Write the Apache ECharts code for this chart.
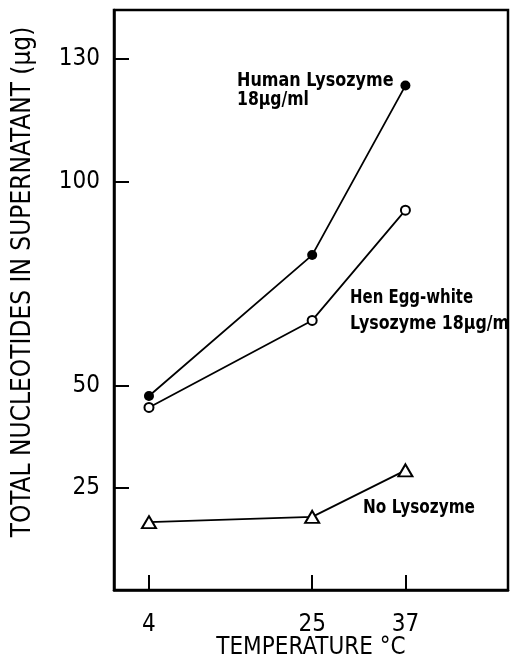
<!DOCTYPE html>
<html>
<head>
<meta charset="utf-8">
<script src="https://cdn.jsdelivr.net/npm/echarts@6/dist/echarts.min.js"></script>
<style>
html,body{margin:0;padding:0;background:#fff;}
#chart{width:510px;height:656px;}
</style>
</head>
<body>
<div id="chart"></div>
<script>
// Data
var temperatures = [4, 25, 37];
var humanLysozyme = [47.5, 82, 123.5];
var henEggWhite = [44.7, 66, 93];
var noLysozyme = [16.6, 17.9, 29.3];
var xTicks = [4, 25, 37];
var yTicks = [25, 50, 100, 130];

var FONT = '"DejaVu Sans Condensed", "DejaVu Sans", sans-serif';

function pairs(xs, ys) {
  return xs.map(function (x, i) { return [x, ys[i]]; });
}

var chart = echarts.init(document.getElementById('chart'), null, {renderer: 'canvas'});

function ann(text, left, top, sx) {
  return {
    type: 'text', left: left, top: top, scaleX: sx, originX: 0,
    style: {text: text, fontFamily: FONT, fontWeight: 'bold', fontSize: 20, fill: '#000'}
  };
}

chart.setOption({
  backgroundColor: '#fff',
  animation: false,
  grid: {left: 114, right: 2, top: 10, bottom: 66, containLabel: false, outerBoundsMode: 'none',
         show: true, borderColor: '#000', borderWidth: 2.5, backgroundColor: 'transparent'},
  xAxis: {
    type: 'value',
    min: -0.5,
    max: 50.2,
    splitLine: {show: false},
    axisLine: {show: true, onZero: false, lineStyle: {color: '#000', width: 2.5}},
    axisTick: {show: true, inside: true, length: 15, customValues: xTicks, lineStyle: {color: '#000', width: 2}},
    axisLabel: {customValues: xTicks, margin: 23, color: '#000', fontFamily: FONT, fontSize: 24},
    name: 'TEMPERATURE °C',
    nameLocation: 'middle',
    nameGap: 46,
    nameMoveOverlap: false,
    nameTextStyle: {color: '#000', fontFamily: FONT, fontSize: 24, verticalAlign: 'top'}
  },
  yAxis: {
    type: 'value',
    min: 0,
    max: 142,
    splitLine: {show: false},
    axisLine: {show: true, onZero: false, lineStyle: {color: '#000', width: 2.5}},
    axisTick: {show: true, inside: true, length: 15, customValues: yTicks, lineStyle: {color: '#000', width: 2}},
    axisLabel: {customValues: yTicks, margin: 14, color: '#000', fontFamily: FONT, fontSize: 24},
    name: 'TOTAL NUCLEOTIDES IN SUPERNATANT (μg)',
    nameLocation: 'middle',
    nameRotate: 90,
    nameGap: 78,
    nameMoveOverlap: false,
    nameTextStyle: {color: '#000', fontFamily: FONT, fontSize: 26, padding: [0, 0, 0, 36]}
  },
  series: [
    {
      name: 'Human Lysozyme 18μg/ml',
      type: 'line',
      data: pairs(temperatures, humanLysozyme),
      symbol: 'circle',
      symbolSize: 10,
      lineStyle: {color: '#000', width: 1.8},
      itemStyle: {color: '#000'}
    },
    {
      name: 'Hen Egg-white Lysozyme 18μg/ml',
      type: 'line',
      data: pairs(temperatures, henEggWhite),
      symbol: 'circle',
      symbolSize: 9,
      lineStyle: {color: '#000', width: 1.8},
      itemStyle: {color: '#fff', borderColor: '#000', borderWidth: 2}
    },
    {
      name: 'No Lysozyme',
      type: 'line',
      data: pairs(temperatures, noLysozyme),
      symbol: 'triangle',
      symbolSize: [14, 12],
      lineStyle: {color: '#000', width: 1.8},
      itemStyle: {color: '#fff', borderColor: '#000', borderWidth: 2}
    }
  ],
  graphic: [
    ann('Human Lysozyme', 237, 71, 0.89),
    ann('18μg/ml', 237, 90, 0.87),
    ann('Hen Egg-white', 350, 288, 0.83),
    ann('Lysozyme 18μg/ml', 350, 314, 0.88),
    ann('No Lysozyme', 363, 498, 0.85)
  ]
});
</script>
</body>
</html>
